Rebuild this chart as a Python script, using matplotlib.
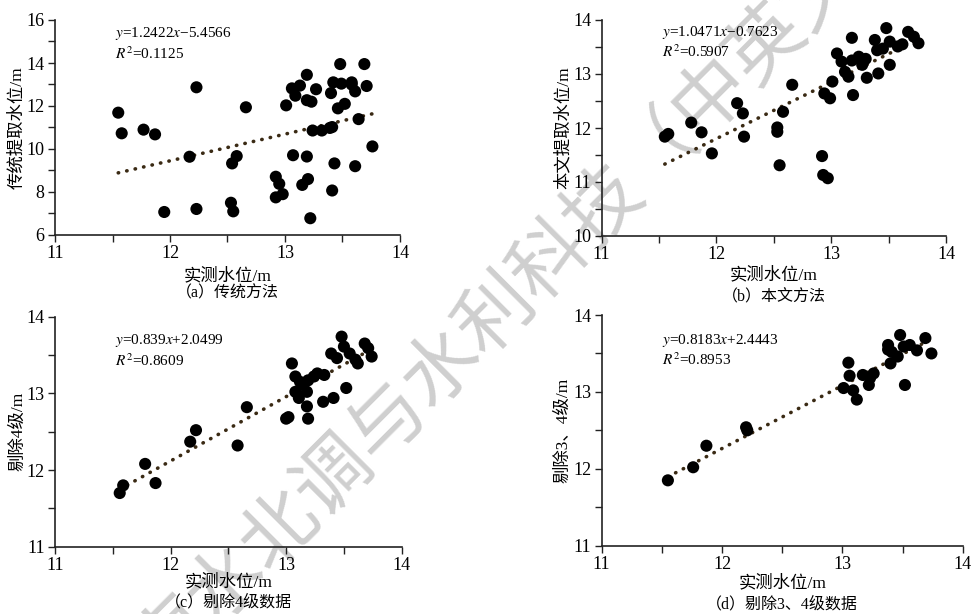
import numpy as np
import matplotlib
matplotlib.use("Agg")
import matplotlib.pyplot as plt
from matplotlib.ticker import MultipleLocator

plt.rcParams['font.family'] = ['Liberation Serif', 'Noto Sans CJK SC']
plt.rcParams['mathtext.fontset'] = 'stix'
plt.rcParams['axes.unicode_minus'] = False

# (a) 传统方法
xa = [11.55, 11.58, 11.77, 11.87, 11.95, 12.17, 12.23, 12.23, 12.54, 12.58, 12.53, 12.55,
      12.66, 12.92, 12.95, 12.92, 12.98, 13.01, 13.07, 13.06, 13.09, 13.13, 13.19, 13.19,
      13.23, 13.27, 13.19, 13.15, 13.20, 13.22, 13.24, 13.32, 13.39, 13.41, 13.40, 13.42,
      13.43, 13.41, 13.48, 13.49, 13.46, 13.52, 13.58, 13.58, 13.61, 13.61, 13.64, 13.69,
      13.71, 13.76]
ya = [11.69, 10.73, 10.90, 10.68, 7.07, 9.64, 12.87, 7.21, 9.33, 9.67, 7.50, 7.10,
      11.94, 8.71, 8.38, 7.75, 7.90, 12.03, 9.71, 12.82, 12.48, 12.95, 13.45, 12.27,
      12.20, 12.78, 9.65, 8.33, 8.60, 6.78, 10.86, 10.86, 10.98, 11.02, 12.60, 13.10,
      9.33, 8.07, 13.95, 13.04, 11.89, 12.10, 13.10, 13.00, 12.68, 9.20, 11.39, 13.95,
      12.93, 10.12]

# (b) 本文方法
xb = [11.55, 11.58, 11.78, 11.87, 11.96, 12.18, 12.23, 12.24, 12.53, 12.53, 12.55, 12.58,
      12.66, 12.92, 12.93, 12.97, 12.94, 12.99, 13.01, 13.05, 13.09, 13.12, 13.15, 13.18,
      13.18, 13.19, 13.24, 13.27, 13.31, 13.41, 13.38, 13.40, 13.48, 13.51, 13.51, 13.58,
      13.62, 13.67, 13.72, 13.76, 13.45, 13.30]
yb = [11.84, 11.89, 12.10, 11.92, 11.53, 12.46, 12.27, 11.84, 12.01, 11.93, 11.31, 12.30,
      12.80, 11.48, 11.13, 11.07, 12.64, 12.55, 12.86, 13.38, 13.23, 13.04, 12.95, 13.25,
      13.67, 12.61, 13.32, 13.17, 12.93, 13.01, 13.63, 13.44, 13.85, 13.60, 13.17, 13.51,
      13.55, 13.78, 13.69, 13.57, 13.47, 13.28]

# (c) 剔除4级数据
xc = [11.56, 11.59, 11.78, 11.87, 12.17, 12.22, 12.58, 12.66, 13.00, 13.05, 13.08, 13.12,
      13.15, 13.19, 13.24, 13.27, 13.33, 13.08, 13.11, 13.18, 13.18, 13.19, 13.02, 13.32,
      13.41, 13.52, 13.39, 13.44, 13.48, 13.50, 13.55, 13.60, 13.62, 13.68, 13.71, 13.74]
yc = [11.70, 11.80, 12.08, 11.83, 12.37, 12.52, 12.32, 12.82, 12.67, 13.39, 13.22, 13.15,
      13.11, 13.17, 13.22, 13.26, 13.24, 13.02, 12.94, 13.02, 12.83, 12.67, 12.69, 12.89,
      12.94, 13.07, 13.52, 13.46, 13.74, 13.61, 13.52, 13.44, 13.39, 13.65, 13.59, 13.48]

# (d) 剔除3、4级数据
xd = [11.55, 11.76, 11.87, 12.20, 12.21, 13.01, 13.05, 13.06, 13.09, 13.12, 13.17, 13.23,
      13.22, 13.26, 13.40, 13.38, 13.41, 13.48, 13.51, 13.56, 13.62, 13.69, 13.74, 13.46,
      13.52, 13.38]
yd = [11.85, 12.02, 12.30, 12.54, 12.50, 13.05, 13.38, 13.21, 13.02, 12.90, 13.22, 13.18,
      13.09, 13.24, 13.37, 13.61, 13.52, 13.74, 13.59, 13.61, 13.54, 13.70, 13.50, 13.46,
      13.09, 13.55]

slopes = [1.2422, 1.0471, 0.839, 0.8183]
intercepts = [-5.4566, -0.7623, 2.0499, 2.4443]
eq_text = ['$y$=1.2422$x$−5.4566', '$y$=1.0471$x$−0.7623',
           '$y$=0.839$x$+2.0499', '$y$=0.8183$x$+2.4443']
r2_text = ['$R^2$=0.1125', '$R^2$=0.5907', '$R^2$=0.8609', '$R^2$=0.8953']
ylabels = ['传统提取水位/m', '本文提取水位/m', '剔除4级/m', '剔除3、4级/m']
captions = ['（a）传统方法', '（b）本文方法', '（c）剔除4级数据', '（d）剔除3、4级数据']
xlabel = '实测水位/m'
ylims = [(6, 16), (10, 14), (11, 14), (11, 14)]
ymajor = [2, 1, 1, 1]

# layout (figure pixels 973 x 614)
W, H = 973, 614
boxes = [(55, 20, 400, 235), (601.7, 20, 946, 236),
         (55, 316.7, 401.7, 546.7), (601.7, 315, 962.7, 545.7)]
eq_pos = [(0.174, 0.935, 0.845), (0.174, 0.940, 0.852),
          (0.173, 0.897, 0.810), (0.166, 0.890, 0.806)]
xlab_off = [41, 39, 35, 37]
cap_off = [58, 61, 56, 59]
ylab_off = [38, 38.7, 37, 38.7]

fig = plt.figure(figsize=(W / 100, H / 100), dpi=100)
fig.patch.set_facecolor('white')

datasets = [(xa, ya), (xb, yb), (xc, yc), (xd, yd)]
for i, (xs, ys) in enumerate(datasets):
    l, t, r, b = boxes[i]
    ax = fig.add_axes([l / W, 1 - b / H, (r - l) / W, (b - t) / H])
    ax.set_facecolor('none')
    xs = np.array(xs)
    ys = np.array(ys)
    xl = np.array([xs.min(), xs.max()])
    ax.plot(xl, slopes[i] * xl + intercepts[i], color='#3a2a14', lw=2.6,
            linestyle=(0, (0.1, 2.3)), dash_capstyle='round', zorder=1)
    ax.scatter(xs, ys, s=76, color='black', edgecolors='none', zorder=2)

    ax.set_xlim(11, 14)
    ax.set_ylim(*ylims[i])
    ax.xaxis.set_major_locator(MultipleLocator(1))
    ax.xaxis.set_minor_locator(MultipleLocator(0.5))
    ax.yaxis.set_major_locator(MultipleLocator(ymajor[i]))
    ax.yaxis.set_minor_locator(MultipleLocator(ymajor[i] / 2))
    for s in ['top', 'right']:
        ax.spines[s].set_visible(False)
    for s in ['left', 'bottom']:
        ax.spines[s].set_linewidth(1.2)
        ax.spines[s].set_color('#222222')
    ax.tick_params(which='both', direction='out', length=5, width=1.0,
                   color='#222222', labelsize=13, pad=2.5)

    ex, ey1, ey2 = eq_pos[i]
    ax.text(ex, ey1, eq_text[i], transform=ax.transAxes, fontsize=11, va='center')
    ax.text(ex, ey2, r2_text[i], transform=ax.transAxes, fontsize=11, va='center')

    ax.set_ylabel(ylabels[i], fontsize=12.5, va='center')
    ax.yaxis.set_label_coords(-ylab_off[i] / (r - l), 0.5)
    ax.annotate(xlabel, xy=(0.5, 0), xycoords='axes fraction',
                xytext=(0, -xlab_off[i] * 0.72), textcoords='offset points',
                ha='center', va='center', fontsize=12.5)
    ax.annotate(captions[i], xy=(0.5, 0), xycoords='axes fraction',
                xytext=(0, -cap_off[i] * 0.72), textcoords='offset points',
                ha='center', va='center', fontsize=11.5)

fig.text(523 / W, 1 - 285 / H, '南水北调与水利科技（中英文）', rotation=45,
         fontsize=55, color='#cfcfcf', family='Noto Sans CJK SC',
         ha='center', va='center', zorder=-1)

fig.savefig('out.png', dpi=100)
